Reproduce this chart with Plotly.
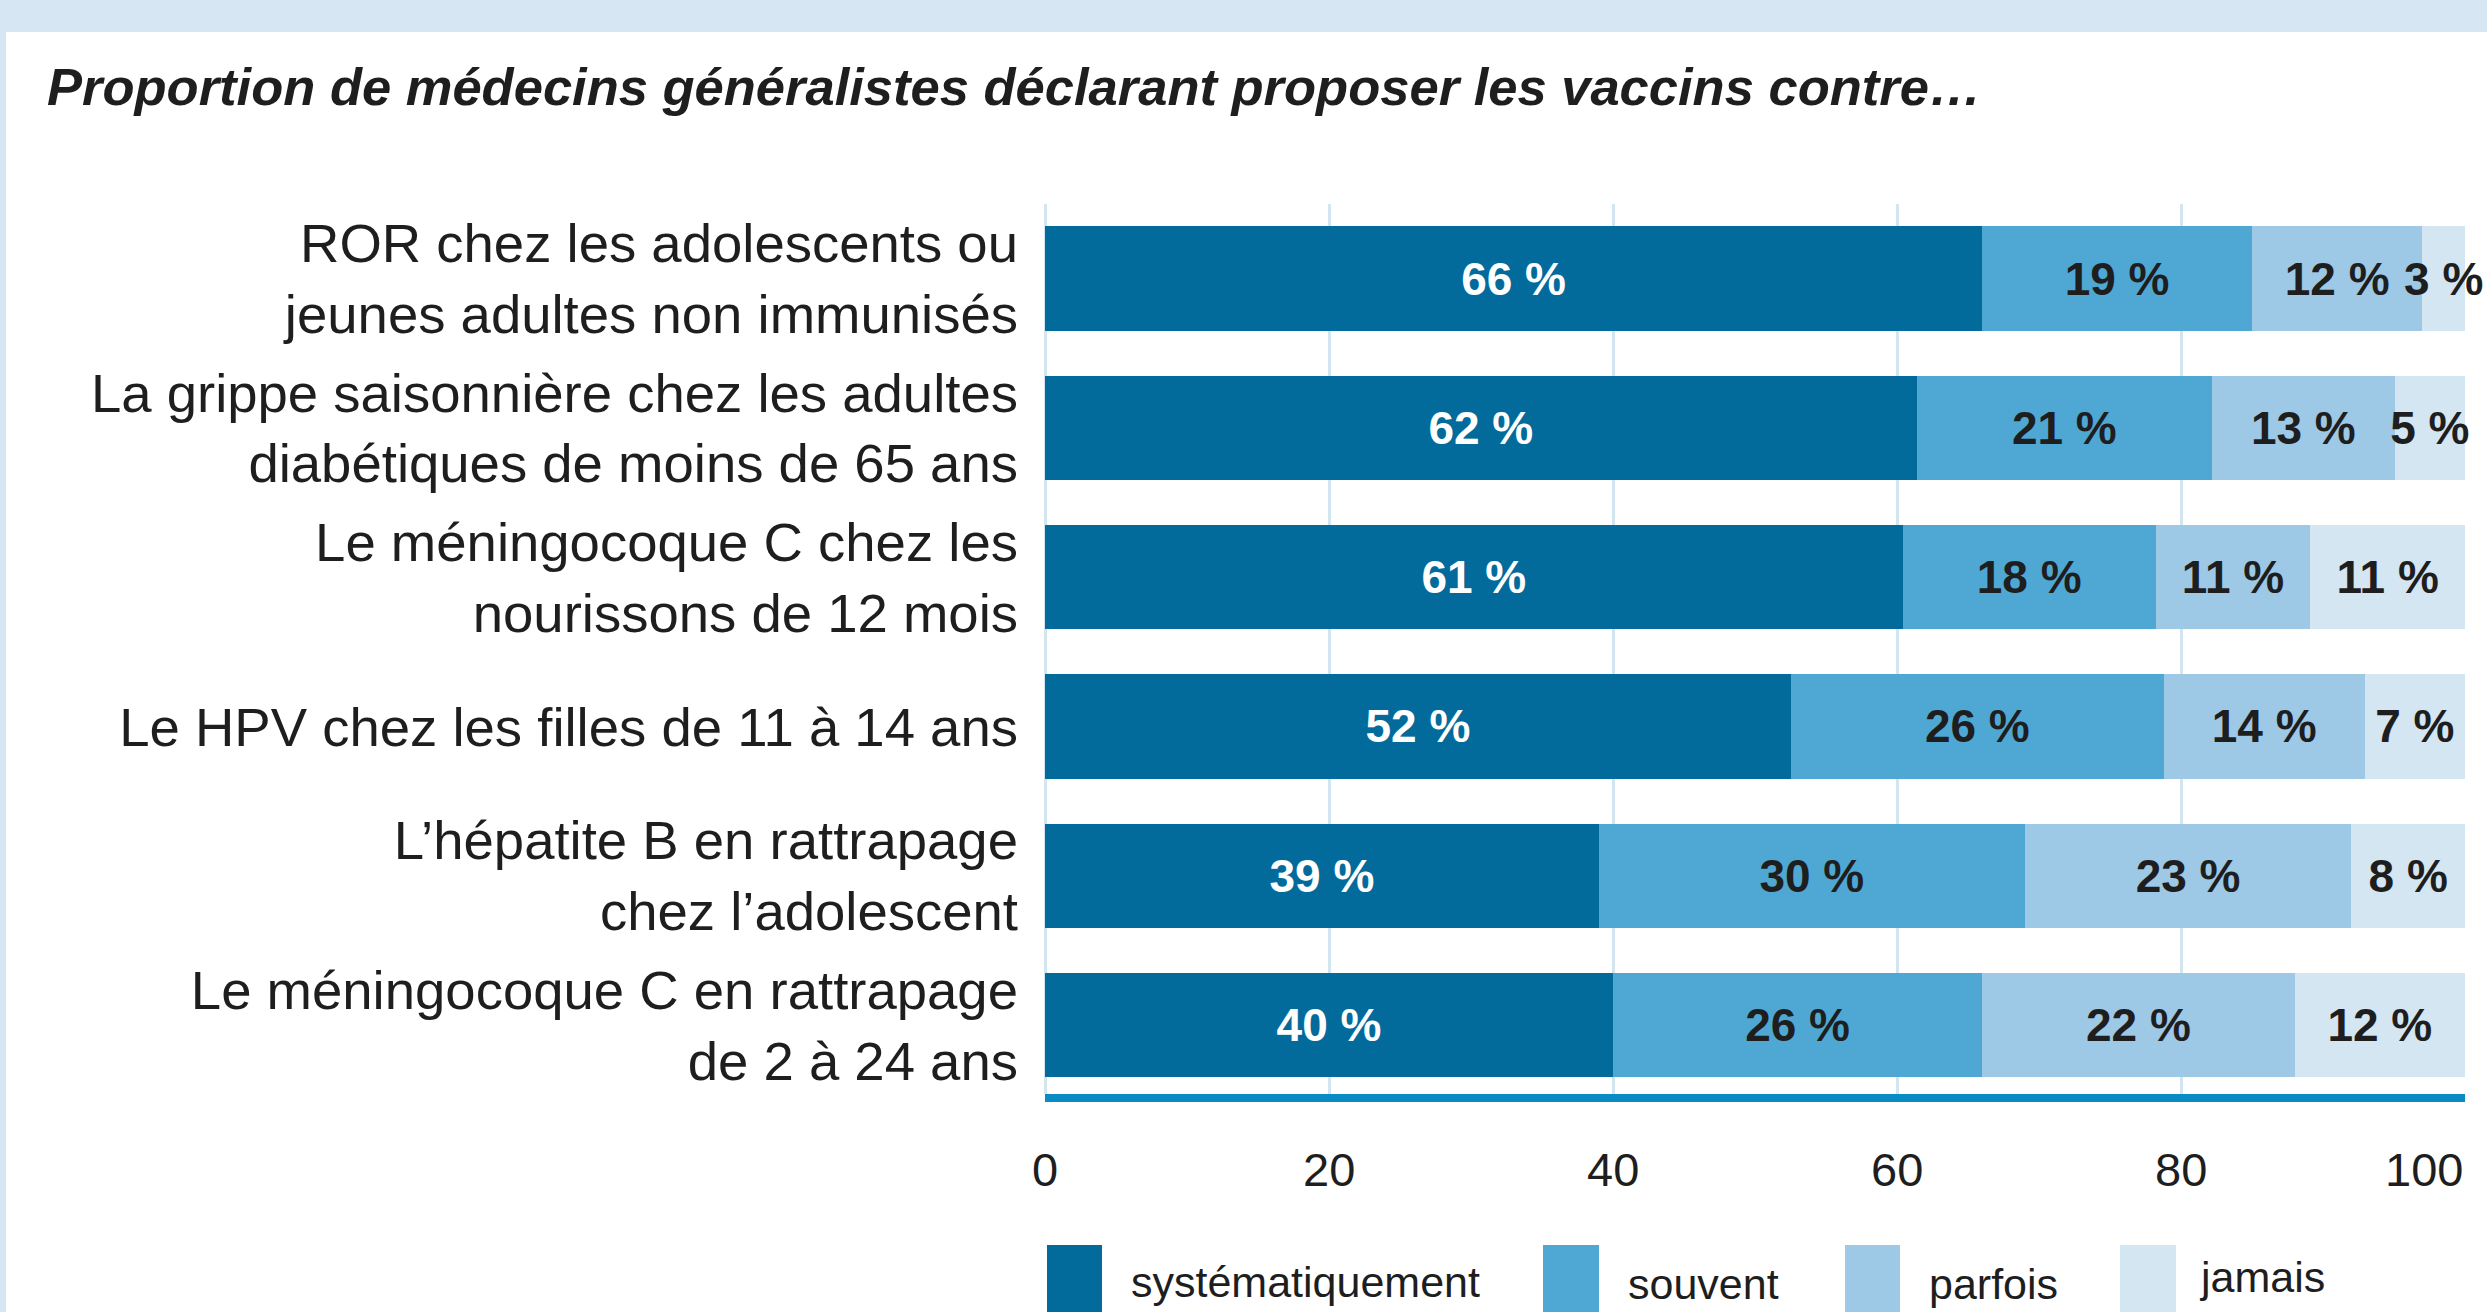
import plotly.graph_objects as go

# ---------------- data ----------------
categories = [
    "ROR chez les adolescents ou<br>jeunes adultes non immunisés",
    "La grippe saisonnière chez les adultes<br>diabétiques de moins de 65 ans",
    "Le méningocoque C chez les<br>nourissons de 12 mois",
    "Le HPV chez les filles de 11 à 14 ans",
    "L’hépatite B en rattrapage<br>chez l’adolescent",
    "Le méningocoque C en rattrapage<br>de 2 à 24 ans",
]
series_names = ["systématiquement", "souvent", "parfois", "jamais"]
systematiquement = [66, 62, 61, 52, 39, 40]
souvent = [19, 21, 18, 26, 30, 26]
parfois = [12, 13, 11, 14, 23, 22]
jamais = [3, 5, 11, 7, 8, 12]
x_ticks = [0, 20, 40, 60, 80, 100]

title_text = "Proportion de médecins généralistes déclarant proposer les vaccins contre…"

# ---------------- style ----------------
W, H = 2487, 1312
ML, MR, MT, MB = 1045, 22, 204, 1312 - 1094
PW, PH = W - ML - MR, H - MT - MB
colors = ["#036b9b", "#4fa8d4", "#9dc8e6", "#d4e6f2"]
text_colors = ["#ffffff", "#1e1e1e", "#1e1e1e", "#1e1e1e"]
FONT = "Liberation Sans, Arial, Helvetica, sans-serif"
band = "#d6e7f3"
grid = "#d3e5f1"
axis_line = "#0a8bc4"


def px_x(px):
    return (px - ML) / PW


def px_y(py):
    return (H - MB - py) / PH


series = [systematiquement, souvent, parfois, jamais]
totals = [sum(v) for v in zip(*series)]

fig = go.Figure()
for name, vals, col, tcol in zip(series_names, series, colors, text_colors):
    fig.add_trace(go.Bar(
        y=categories,
        x=[v / t * 100 for v, t in zip(vals, totals)],
        text=vals,
        texttemplate="%{text} %",
        orientation="h",
        name=name,
        marker=dict(color=col, line=dict(width=0)),
        textposition="inside",
        insidetextanchor="middle",
        textangle=0,
        textfont=dict(family=FONT, size=46, color=tcol, weight="bold"),
        cliponaxis=False,
        showlegend=False,
        hoverinfo="skip",
    ))

fig.update_layout(
    width=W, height=H,
    margin=dict(l=ML, r=MR, t=MT, b=MB, pad=0, autoexpand=False),
    barmode="stack",
    bargap=0.30,
    paper_bgcolor="white",
    plot_bgcolor="white",
    uniformtext=dict(mode="show", minsize=46),
    font=dict(family=FONT, color="#1e1e1e"),
    xaxis=dict(
        range=[0, 100.00001],
        tickvals=x_ticks,
        showticklabels=False,
        showgrid=True, gridcolor=grid, gridwidth=3,
        zeroline=True, zerolinecolor=grid, zerolinewidth=3,
        showline=True, linecolor=axis_line, linewidth=8,
        ticks="",
        automargin=False,
        fixedrange=True,
    ),
    yaxis=dict(
        type="category",
        categoryorder="array",
        categoryarray=categories,
        range=[5.462, -0.5],
        tickfont=dict(family=FONT, size=54.5, color="#1e1e1e"),
        ticks="",
        ticklabelstandoff=26,
        showgrid=False, zeroline=False, showline=False,
        automargin=False,
        fixedrange=True,
    ),
)

annotations = []
# title
annotations.append(dict(
    text=title_text, xref="paper", yref="paper",
    x=px_x(45), y=px_y(87), xanchor="left", yanchor="middle",
    showarrow=False,
    font=dict(family=FONT, size=52.5, color="#1e1e1e", weight="bold", style="italic"),
))
# x tick labels
for v in x_ticks:
    annotations.append(dict(
        text=str(v), xref="x", yref="paper", x=v, y=0,
        yshift=-75, yanchor="middle",
        xanchor="right" if v == x_ticks[-1] else "center",
        showarrow=False,
        font=dict(family=FONT, size=47, color="#1e1e1e"),
    ))

# legend (layout positions)
legend_rect_px = [(1047, 1102), (1543, 1599), (1845, 1900), (2120, 2176)]
legend_text_px = [(1129, 1282), (1626, 1284), (1927, 1284), (2197, 1277)]
shapes = []
for (x0, x1), (tx, ty), name, col in zip(legend_rect_px, legend_text_px, series_names, colors):
    shapes.append(dict(type="rect", xref="paper", yref="paper",
                       x0=px_x(x0), x1=px_x(x1), y0=px_y(1245), y1=px_y(1330),
                       fillcolor=col, line=dict(width=0)))
    annotations.append(dict(
        text=name, xref="paper", yref="paper", x=px_x(tx), y=px_y(ty),
        xanchor="left", yanchor="middle", showarrow=False,
        font=dict(family=FONT, size=43, color="#1e1e1e"),
    ))

# page frame bands
shapes.append(dict(type="rect", xref="paper", yref="paper",
                   x0=px_x(-5), x1=px_x(W + 5), y0=px_y(32), y1=px_y(-5),
                   fillcolor=band, line=dict(width=0), layer="below"))
shapes.append(dict(type="rect", xref="paper", yref="paper",
                   x0=px_x(-5), x1=px_x(6), y0=px_y(H + 5), y1=px_y(-5),
                   fillcolor=band, line=dict(width=0), layer="below"))

fig.update_layout(annotations=annotations, shapes=shapes)
fig.write_html(
    "out.html",
    config={"displayModeBar": False},
    post_script="document.body.style.margin='0';document.body.style.overflow='hidden';",
)
